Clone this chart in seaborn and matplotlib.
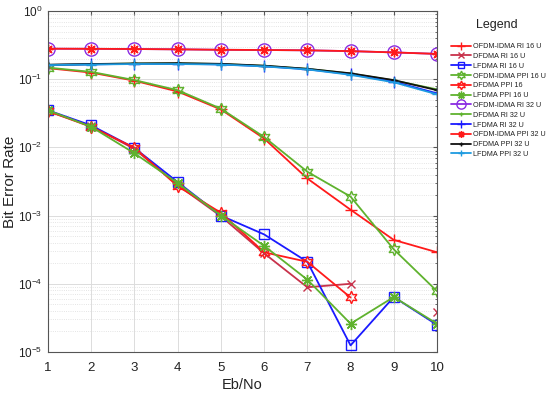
import numpy as np
import pandas as pd
import matplotlib
matplotlib.use('Agg')
import matplotlib.pyplot as plt
import seaborn as sns

nan = np.nan
ebno = [1, 2, 3, 4, 5, 6, 7, 8, 9, 10]

# BER values (nan = not plotted)
ofdm_ri_16 = [0.145, 0.125, 0.095, 0.066, 0.036, 0.0135, 0.0035, 0.00122, 4.4e-4, 2.9e-4]
dfdma_ri_16 = [0.034, 0.0205, 0.0095, 0.0028, 0.00098, 2.8e-4, 8.9e-5, 1.0e-4, nan, 3.8e-5]
lfdma_ri_16 = [0.035, 0.021, 0.0098, 0.0031, 0.00100, 5.3e-4, 2.1e-4, 1.25e-5, 6.4e-5, 2.5e-5]
ofdm_ppi_16 = [0.148, 0.128, 0.097, 0.069, 0.037, 0.0142, 0.0044, 0.0019, 3.2e-4, 7.8e-5]
dfdma_ppi_16 = [0.034, 0.0200, 0.0099, 0.0027, 0.00110, 2.9e-4, 2.1e-4, 6.3e-5, nan, nan]
lfdma_ppi_16 = [0.035, 0.0200, 0.0082, 0.0030, 0.00100, 3.6e-4, 1.15e-4, 2.6e-5, 6.4e-5, 2.6e-5]
ofdm_ri_32 = [0.280, 0.279, 0.277, 0.274, 0.270, 0.268, 0.265, 0.258, 0.247, 0.235]
dfdma_ri_32 = [0.162, 0.166, 0.170, 0.171, 0.167, 0.157, 0.142, 0.121, 0.096, 0.071]
lfdma_ri_32 = [0.162, 0.165, 0.168, 0.168, 0.165, 0.155, 0.140, 0.118, 0.092, 0.062]
ofdm_ppi_32 = [0.280, 0.279, 0.277, 0.274, 0.270, 0.268, 0.265, 0.258, 0.247, 0.235]
dfdma_ppi_32 = [0.163, 0.167, 0.170, 0.172, 0.168, 0.158, 0.142, 0.122, 0.097, 0.069]
lfdma_ppi_32 = [0.161, 0.164, 0.167, 0.167, 0.164, 0.154, 0.139, 0.116, 0.090, 0.060]

labels = ['OFDM-IDMA RI 16 U', 'DFDMA RI 16 U', 'LFDMA RI 16 U', 'OFDM-IDMA PPI 16 U',
          'DFDMA PPI 16', 'LFDMA PPI 16 U', 'OFDM-IDMA RI 32 U', 'DFDMA RI 32 U',
          'LFDMA RI 32 U', 'OFDM-IDMA PPI 32 U', 'DFDMA PPI 32 U', 'LFDMA PPI 32 U']
series = [ofdm_ri_16, dfdma_ri_16, lfdma_ri_16, ofdm_ppi_16, dfdma_ppi_16, lfdma_ppi_16,
          ofdm_ri_32, dfdma_ri_32, lfdma_ri_32, ofdm_ppi_32, dfdma_ppi_32, lfdma_ppi_32]

RED, CRIM, BLUE, GREEN = '#ff1a1a', '#c8324b', '#1a1aff', '#5fb22e'
styles = [
    (RED, '+', 8), (CRIM, 'x', 6), (BLUE, 's', 7), (GREEN, (6, 1, 0), 9),
    (RED, (6, 1, 0), 9), (GREEN, (8, 2, 0), 8), ('#8a2be2', 'o', 9.5), (GREEN, '+', 5),
    (BLUE, '+', 8), (RED, (8, 2, 0), 7), ('#111111', '+', 5), ('#1e9be0', '+', 7),
]

sns.set_style('white')
plt.rcParams['font.family'] = ['Liberation Sans', 'DejaVu Sans']
plt.rcParams['mathtext.fontset'] = 'custom'
plt.rcParams['mathtext.rm'] = 'Liberation Sans'

fig = plt.figure(figsize=(5.5, 3.95), dpi=100)
ax = fig.add_axes([48 / 550, 1 - 352 / 395, 389 / 550, 341 / 395])

for name, vals, (col, mk, ms) in zip(labels, series, styles):
    df = pd.DataFrame({'x': ebno, 'y': vals})
    # split into runs so missing points break the line
    df['run'] = df['y'].isna().cumsum()
    df = df.dropna()
    first = True
    for _, seg in df.groupby('run'):
        sns.lineplot(data=seg, x='x', y='y', ax=ax, color=col, marker=mk, markersize=ms,
                     markerfacecolor='none', markeredgecolor=col, markeredgewidth=1.0,
                     linewidth=1.3, label=name if first else '_nolegend_', legend=False)
        first = False

ax.set_yscale('log')
ax.set_xlim(1, 10)
ax.set_ylim(1e-5, 1)
ax.set_xticks(ebno)
ax.grid(True, which='major', color='#dcdcdc', linewidth=0.7)
ax.grid(True, which='minor', axis='y', color='#dcdcdc', linewidth=0.6, linestyle=':')
ax.set_axisbelow(True)
ax.tick_params(which='both', direction='in', top=True, right=True, colors='#555555',
               labelcolor='#222222')
ax.tick_params(axis='x', labelsize=9.5, pad=7)
ax.tick_params(axis='y', labelsize=8.5, pad=4)
ax.tick_params(which='major', length=3)
ax.tick_params(which='minor', length=1.5)
for sp in ax.spines.values():
    sp.set_color('#555555')
    sp.set_linewidth(0.8)
ax.set_xlabel('Eb/No', fontsize=10.5, color='#222222', labelpad=3)
ax.set_ylabel('Bit Error Rate', fontsize=11, color='#222222')
ax.yaxis.set_label_coords(-0.08, 0.5)

h, l = ax.get_legend_handles_labels()
fig.text(497 / 550, 1 - 25 / 395, 'Legend', ha='center', va='center', fontsize=9, color='#222222')
leg = fig.legend(h, l, loc='upper left', bbox_to_anchor=(446 / 550, 1 - 38 / 395),
                 frameon=False, fontsize=5.2, markerscale=0.7,
                 handlelength=2.8, handletextpad=0.3, labelspacing=0.38, borderpad=0.2)
for t in leg.get_texts():
    t.set_color('#222222')

fig.savefig('out.png', dpi=100)
